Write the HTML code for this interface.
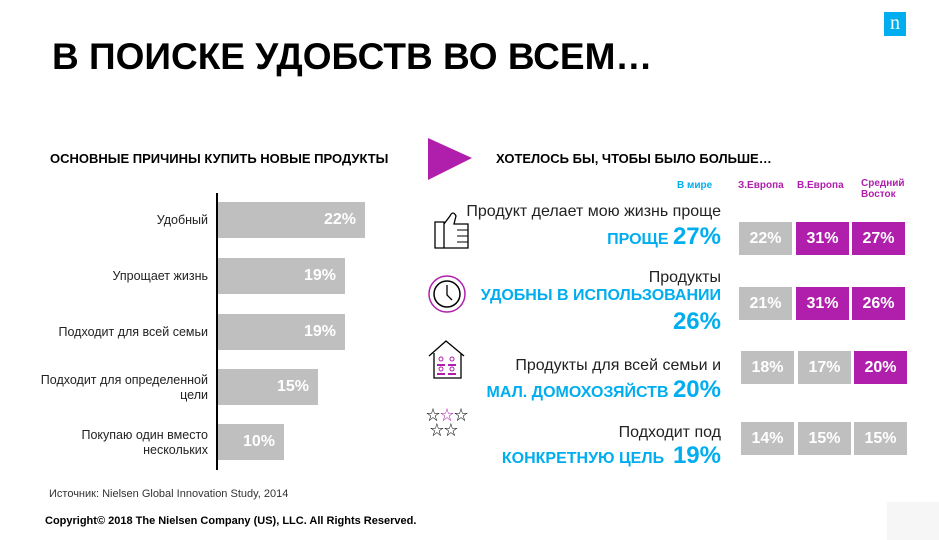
<!DOCTYPE html>
<html><head><meta charset="utf-8"><style>
body{margin:0;width:939px;height:540px;background:#fff;position:relative;overflow:hidden;font-family:"Liberation Sans","Noto Sans CJK SC",sans-serif;}
.a{position:absolute;white-space:nowrap;}
.bar{position:absolute;background:#bfbfbf;color:#fff;font-weight:bold;font-size:16px;text-align:right;box-sizing:border-box;padding-right:9px;line-height:36px;height:36px;left:218px;}
.lbl{position:absolute;right:731px;font-size:12.5px;color:#222;text-align:right;line-height:15px;}
.bx{position:absolute;width:53px;height:33px;color:#fff;font-weight:bold;font-size:16px;text-align:center;line-height:33px;}
.g{background:#bfbfbf}.p{background:#b01fac}
.bl{color:#00aeef;font-weight:bold;}
.rt{position:absolute;right:218px;text-align:right;color:#222;font-size:16px;}
</style></head><body>
<div class="a" style="left:884px;top:12px;width:22px;height:24px;background:#00aeef;color:#fff;font-family:'Liberation Serif',serif;font-size:20px;text-align:center;line-height:22px;">n</div>
<div class="a" style="left:52px;top:36px;font-size:37px;font-weight:bold;color:#000;">В ПОИСКЕ УДОБСТВ ВО ВСЕМ…</div>
<div class="a" style="left:50px;top:151px;font-size:13px;font-weight:bold;">ОСНОВНЫЕ ПРИЧИНЫ КУПИТЬ НОВЫЕ ПРОДУКТЫ</div>
<div class="a" style="left:216px;top:193px;width:2px;height:277px;background:#000;"></div>
<div class="bar" style="top:202px;width:147px;">22%</div>
<div class="bar" style="top:258px;width:127px;">19%</div>
<div class="bar" style="top:314px;width:127px;">19%</div>
<div class="bar" style="top:369px;width:100px;">15%</div>
<div class="bar" style="top:424px;width:66px;">10%</div>
<div class="lbl" style="top:213px;">Удобный</div>
<div class="lbl" style="top:269px;">Упрощает жизнь</div>
<div class="lbl" style="top:325px;">Подходит для всей семьи</div>
<div class="lbl" style="top:373px;">Подходит для определенной<br>цели</div>
<div class="lbl" style="top:428px;">Покупаю один вместо<br>нескольких</div>
<div class="a" style="left:49px;top:488px;font-size:11px;color:#333;">Источник: Nielsen Global Innovation Study, 2014</div>
<div class="a" style="left:45px;top:515px;font-size:11px;font-weight:bold;">Copyright© 2018 The Nielsen Company (US), LLC. All Rights Reserved.</div>
<div class="a" style="left:887px;top:502px;width:52px;height:38px;background:#f6f6f6;"></div>
<svg class="a" style="left:428px;top:138px" width="44" height="42"><polygon points="0,0 44,20 0,42" fill="#b01fac"/></svg>
<div class="a" style="left:496px;top:151px;font-size:13px;font-weight:bold;">ХОТЕЛОСЬ БЫ, ЧТОБЫ БЫЛО БОЛЬШЕ…</div>
<div class="a" style="left:677px;top:180px;font-size:10px;color:#00aeef;font-weight:bold;">В мире</div>
<div class="a" style="left:738px;top:180px;font-size:10px;color:#b01fac;font-weight:bold;">З.Европа</div>
<div class="a" style="left:797px;top:180px;font-size:10px;color:#b01fac;font-weight:bold;">В.Европа</div>
<div class="a" style="left:861px;top:178px;font-size:10px;color:#b01fac;font-weight:bold;line-height:11px;">Средний<br>Восток</div>
<div class="rt" style="top:203px;">Продукт делает мою жизнь проще</div>
<div class="rt" style="top:223px;font-size:16px;"><span class="bl">ПРОЩЕ <span style="font-size:24px">27%</span></span></div>
<div class="rt" style="top:269px;">Продукты</div>
<div class="rt" style="top:287px;font-size:16px;"><span class="bl">УДОБНЫ В ИСПОЛЬЗОВАНИИ</span></div>
<div class="rt" style="top:308px;font-size:24px;"><span class="bl">26%</span></div>
<div class="rt" style="top:357px;">Продукты для всей семьи и</div>
<div class="rt" style="top:376px;font-size:16px;"><span class="bl">МАЛ. ДОМОХОЗЯЙСТВ <span style="font-size:24px">20%</span></span></div>
<div class="rt" style="top:424px;">Подходит под</div>
<div class="rt" style="top:442px;font-size:16px;"><span class="bl">КОНКРЕТНУЮ ЦЕЛЬ &nbsp;<span style="font-size:24px">19%</span></span></div>
<div class="bx g" style="left:739px;top:222px">22%</div><div class="bx p" style="left:796px;top:222px">31%</div><div class="bx p" style="left:852px;top:222px">27%</div>
<div class="bx g" style="left:739px;top:287px">21%</div><div class="bx p" style="left:796px;top:287px">31%</div><div class="bx p" style="left:852px;top:287px">26%</div>
<div class="bx g" style="left:741px;top:351px">18%</div><div class="bx g" style="left:798px;top:351px">17%</div><div class="bx p" style="left:854px;top:351px">20%</div>
<div class="bx g" style="left:741px;top:422px">14%</div><div class="bx g" style="left:798px;top:422px">15%</div><div class="bx g" style="left:854px;top:422px">15%</div>
<svg class="a" style="left:432px;top:208px" width="40" height="42"><path d="M3,14 h9 v26 h-9 z M12,16 l6,-8 q3,-6 6,0 l-2,8 h14 v24 h-24" fill="none" stroke="#000" stroke-width="1.3"/><path d="M25,22h11M25,28h11M25,34h11" stroke="#000"/></svg>
<svg class="a" style="left:427px;top:272px" width="42" height="42"><circle cx="20" cy="22" r="18" fill="none" stroke="#b01fac" stroke-width="1.5"/><circle cx="20" cy="22" r="13" fill="none" stroke="#000" stroke-width="1.5"/><path d="M20,13v10l5,5" stroke="#000" fill="none" stroke-width="1.3"/></svg>
<svg class="a" style="left:427px;top:338px" width="40" height="42"><path d="M2,18 L19,3 L37,18 M7,15 v25 h27 v-25" fill="none" stroke="#000" stroke-width="1.3"/><circle cx="14" cy="21" r="2" fill="none" stroke="#b01fac"/><circle cx="25" cy="21" r="2" fill="none" stroke="#b01fac"/><circle cx="14" cy="31" r="2" fill="none" stroke="#b01fac"/><circle cx="25" cy="31" r="2" fill="none" stroke="#b01fac"/><path d="M10,27h8M21,27h8M10,36h8M21,36h8" stroke="#b01fac" stroke-width="2"/></svg>
<div class="a" style="left:426px;top:408px;font-size:14px;line-height:15px;">☆<span style="color:#b01fac">☆</span>☆<br>&nbsp;☆☆</div>
</body></html>
